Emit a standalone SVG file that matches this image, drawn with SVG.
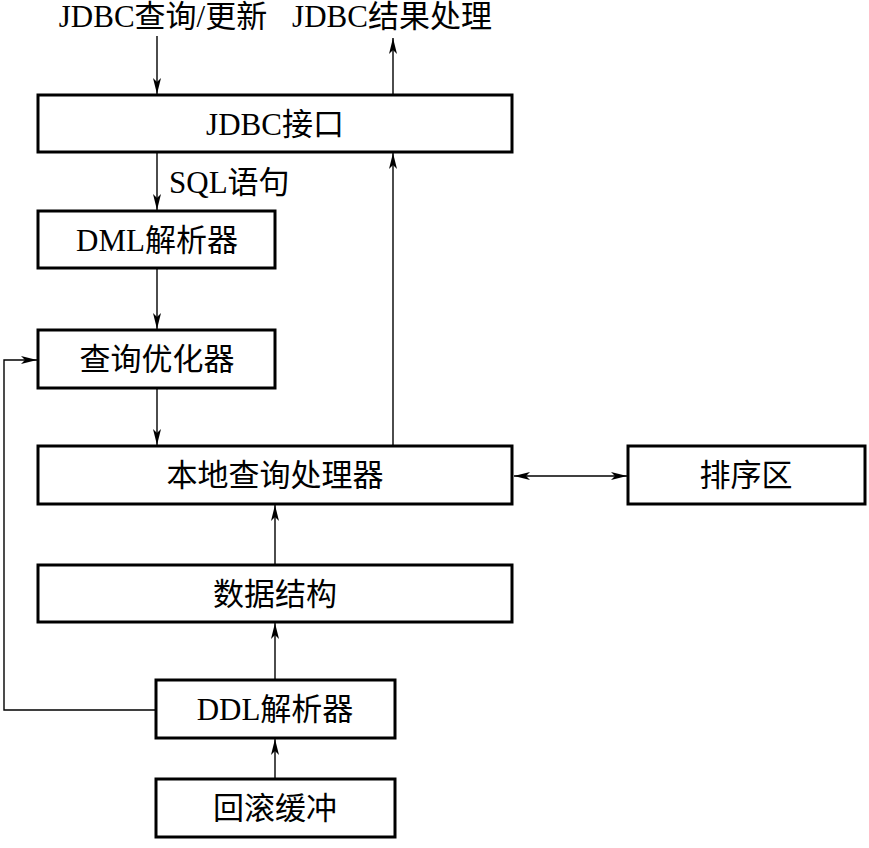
<svg xmlns="http://www.w3.org/2000/svg" width="869" height="848" viewBox="0 0 869 848">
<style>
.box{fill:#fff;stroke:#000;stroke-width:3}
.ln{fill:none;stroke:#000;stroke-width:1.4}
.t{font-family:"Liberation Serif","Noto Sans CJK SC",serif;font-size:31px;fill:#000;text-anchor:middle}
.l{font-family:"Liberation Serif","Noto Sans CJK SC",serif;font-size:31px;fill:#000}
</style>
<defs>
<marker id="a" viewBox="0 0 16 8" refX="16" refY="4" markerWidth="16" markerHeight="8" markerUnits="userSpaceOnUse" orient="auto-start-reverse">
<path d="M0,0 L16,4 L0,8 L4,4 z" fill="#000"/>
</marker>
</defs>
<g id="connectors">
<line class="ln" x1="157" y1="36" x2="157" y2="94" marker-end="url(#a)"/>
<line class="ln" x1="393" y1="94" x2="393" y2="38" marker-end="url(#a)"/>
<line class="ln" x1="157" y1="152" x2="157" y2="210" marker-end="url(#a)"/>
<line class="ln" x1="157" y1="268" x2="157" y2="329" marker-end="url(#a)"/>
<line class="ln" x1="157" y1="388" x2="157" y2="445" marker-end="url(#a)"/>
<line class="ln" x1="393" y1="446" x2="393" y2="153" marker-end="url(#a)"/>
<line class="ln" x1="514" y1="476" x2="627" y2="476" marker-start="url(#a)" marker-end="url(#a)"/>
<line class="ln" x1="275" y1="565" x2="275" y2="505" marker-end="url(#a)"/>
<line class="ln" x1="275" y1="679" x2="275" y2="623" marker-end="url(#a)"/>
<line class="ln" x1="275" y1="778" x2="275" y2="739" marker-end="url(#a)"/>
<polyline class="ln" points="156,710 4,710 4,360 37,360" marker-end="url(#a)"/>
</g>
<g id="labels">
<text class="t" x="163" y="27">JDBC查询/更新</text>
<text class="t" x="392" y="27">JDBC结果处理</text>
<text class="l" x="169" y="193">SQL语句</text>
</g>
<g id="jdbc"><rect class="box" x="38" y="95" width="474" height="57"/><text class="t" x="275" y="135">JDBC接口</text></g>
<g id="dml"><rect class="box" x="38" y="211" width="237" height="57"/><text class="t" x="157" y="251">DML解析器</text></g>
<g id="opt"><rect class="box" x="38" y="330" width="237" height="58"/><text class="t" x="157" y="370">查询优化器</text></g>
<g id="local"><rect class="box" x="38" y="446" width="474" height="58"/><text class="t" x="275" y="486">本地查询处理器</text></g>
<g id="sort"><rect class="box" x="628" y="446" width="237" height="58"/><text class="t" x="746" y="486">排序区</text></g>
<g id="ds"><rect class="box" x="38" y="565" width="474" height="57"/><text class="t" x="275" y="605">数据结构</text></g>
<g id="ddl"><rect class="box" x="156" y="680" width="239" height="58"/><text class="t" x="275" y="720">DDL解析器</text></g>
<g id="rollback"><rect class="box" x="156" y="779" width="239" height="58"/><text class="t" x="275" y="819">回滚缓冲</text></g>
</svg>
